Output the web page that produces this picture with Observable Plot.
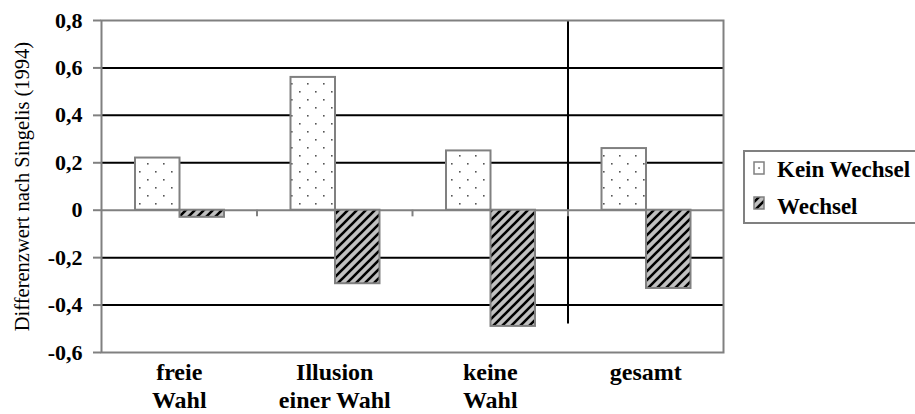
<!DOCTYPE html>
<html>
<head>
<meta charset="utf-8">
<script src="https://cdn.jsdelivr.net/npm/d3@7"></script>
<script src="https://cdn.jsdelivr.net/npm/@observablehq/plot@0.6"></script>
<style>
  html, body { margin: 0; padding: 0; background: #fff; overflow: hidden; }
  #wrap { position: relative; width: 915px; height: 414px; overflow: hidden; }
  #legend { position: absolute; left: 743px; top: 150px; }
  #wrap svg, #wrap svg text { font-family: "Liberation Serif", "Times New Roman", Times, "DejaVu Serif", serif; }
  g[aria-label="y-axis tick"] { color: #808080; stroke-width: 2px; }
  g[aria-label="y-axis"] .tick line { stroke: #808080; stroke-width: 2px; }
</style>
</head>
<body>
<div id="wrap"></div>
<script>
// ---- data ----
const categories = ["freie Wahl", "Illusion einer Wahl", "keine Wahl", "gesamt"];
const categoryLabels = ["freie\nWahl", "Illusion\neiner Wahl", "keine\nWahl", "gesamt"];
const seriesNames = ["Kein Wechsel", "Wechsel"];
const keinWechsel = [0.22, 0.56, 0.25, 0.26];
const wechsel = [-0.03, -0.31, -0.49, -0.33];
const yTicks = [-0.6, -0.4, -0.2, 0, 0.2, 0.4, 0.6, 0.8];
const gridValues = [-0.4, -0.2, 0.2, 0.4, 0.6];
const separatorAfter = ["keine Wahl"];
const separatorRange = [-0.48, 0.8];
const zeroTickAfter = ["freie Wahl", "Illusion einer Wahl", "keine Wahl"];
const zeroTickRange = [0, -0.028];
const yLabel = "Differenzwert nach Singelis (1994)";

// ---- layout ----
const W = 915, H = 414, mL = 101, mR = 192, mT = 20, mB = 62;
const bw = (W - mL - mR) / categories.length;
const barW = 44.5, outer = 34;

const rows = categories.flatMap((c, i) => [
  {cat: c, series: seriesNames[0], value: keinWechsel[i]},
  {cat: c, series: seriesNames[1], value: wechsel[i]}
]);

const serif = '"Liberation Serif", "Times New Roman", Times, "DejaVu Serif", serif';

const chart = Plot.plot({
  width: W, height: H,
  marginLeft: mL, marginRight: mR, marginTop: mT, marginBottom: mB,
  style: {fontFamily: serif, fontSize: "22px", fontWeight: "bold", color: "#000", background: "#fff", overflow: "visible"},
  x: {domain: categories, padding: 0, round: false, axis: null},
  y: {
    domain: [-0.6, 0.8], ticks: yTicks, label: null,
    tickFormat: d => d === 0 ? "0" : d.toFixed(1).replace(".", ","),
    tickSize: 8, tickPadding: 11
  },
  marks: [
    Plot.ruleY(gridValues, {stroke: "#000", strokeWidth: 2}),
    Plot.ruleX(separatorAfter, {x: d => d, y1: separatorRange[0], y2: separatorRange[1], dx: bw / 2, stroke: "#000", strokeWidth: 2}),
    Plot.ruleX(zeroTickAfter, {x: d => d, y1: zeroTickRange[0], y2: zeroTickRange[1], dx: bw / 2, stroke: "#808080", strokeWidth: 2}),
    Plot.ruleY([0], {stroke: "#808080", strokeWidth: 2}),
    Plot.barY(rows.filter(d => d.series === seriesNames[0]), {
      x: "cat", y: "value", fill: "url(#pat-dots)", stroke: "#808080", strokeWidth: 2,
      insetLeft: outer, insetRight: bw - outer - barW
    }),
    Plot.barY(rows.filter(d => d.series === seriesNames[1]), {
      x: "cat", y: "value", fill: "url(#pat-stripes)", stroke: "#808080", strokeWidth: 2,
      insetLeft: outer + barW, insetRight: bw - outer - 2 * barW
    }),
    Plot.frame({stroke: "#808080", strokeWidth: 2}),
    Plot.text(categories, {
      x: d => d, text: (d, i) => categoryLabels[i], frameAnchor: "bottom",
      lineAnchor: "top", dy: 8, fontSize: 24, lineHeight: 1.15, fill: "#000"
    }),
    Plot.text([yLabel], {
      text: d => d, frameAnchor: "left", rotate: -90, dx: -73, lineAnchor: "bottom",
      textAnchor: "middle", fontSize: 20.5, fontWeight: "normal", fill: "#000"
    })
  ]
});

const ns = "http://www.w3.org/2000/svg";
const defs = document.createElementNS(ns, "defs");
defs.innerHTML = `
  <pattern id="pat-dots" patternUnits="userSpaceOnUse" width="16" height="16">
    <rect width="16" height="16" fill="#fff"/>
    <rect x="3" y="3" width="1.6" height="1.6" fill="#555"/>
    <rect x="11" y="11" width="1.6" height="1.6" fill="#555"/>
  </pattern>
  <pattern id="pat-stripes" patternUnits="userSpaceOnUse" width="9" height="9">
    <rect width="9" height="9" fill="#c0c0c0"/>
    <path d="M-1,1 L1,-1 M0,9 L9,0 M8,10 L10,8" stroke="#000" stroke-width="2.6"/>
  </pattern>`;
chart.insertBefore(defs, chart.firstChild);

const wrap = document.getElementById("wrap");
wrap.appendChild(chart);

// legend
const legend = document.createElement("div");
legend.id = "legend";
legend.innerHTML = `
<svg width="180" height="76" xmlns="${ns}" font-weight="bold" font-size="23">
  <rect x="1" y="1" width="200" height="72" fill="#fff" stroke="#808080" stroke-width="2"/>
  <rect x="11" y="12" width="10" height="12" fill="#fff" stroke="#808080" stroke-width="1.5"/>
  <rect x="15.3" y="17.3" width="1.5" height="1.5" fill="#555"/>
  <text x="34" y="26.5" fill="#000">${seriesNames[0]}</text>
  <rect x="11" y="47" width="10" height="12" fill="url(#pat-stripes)" stroke="#808080" stroke-width="1.5"/>
  <text x="34" y="63.5" fill="#000">${seriesNames[1]}</text>
</svg>`;
wrap.appendChild(legend);
</script>
</body>
</html>
